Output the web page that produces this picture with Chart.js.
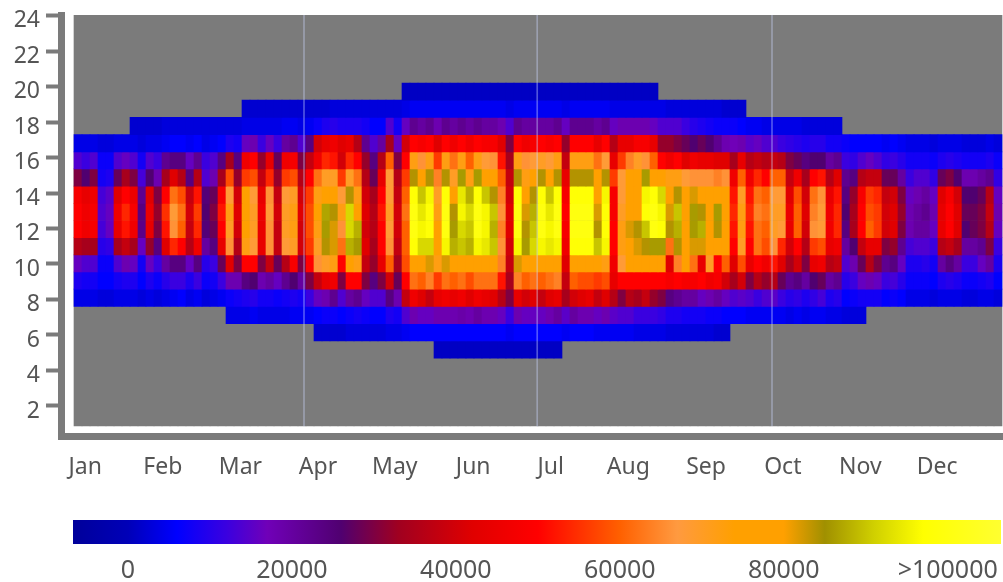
<!DOCTYPE html>
<html>
<head>
<meta charset="utf-8">
<title>Heatmap</title>
<script src="https://cdn.jsdelivr.net/npm/chart.js@4"></script>
<style>
  html, body { margin:0; padding:0; background:#fff; }
  canvas { position:absolute; left:0; display:block; filter:blur(0.6px); }
  #heat { top:0; }
  #scale { top:500px; }
</style>
</head>
<body>
<canvas id="heat" width="1003" height="500"></canvas>
<canvas id="scale" width="1003" height="82"></canvas>
<script>
const _ = null;
// values in thousands, one array per hour band (top of the picture first), 116 columns over the year
const band00 = [
_,_,_,_,_,_,_,_,_,_,_,_,_,_,_,_,_,_,_,_,_,_,_,_,_,_,_,_,_,_,_,_,_,_,_,_,_,_,_,_,
_,1,1,1,1,1,1,1,1,1,1,1,1,1,1,1,1,1,1,1,1,1,1,1,1,1,1,1,1,1,1,1,1,
_,_,_,_,_,_,_,_,_,_,_,_,_,_,_,_,_,_,_,_,_,_,_,_,_,_,_,_,_,_,_,_,_,_,_,_,_,_,_,_,_,_,_];
const band01 = [
_,_,_,_,_,_,_,_,_,_,_,_,_,_,_,_,_,_,_,_,_,
2,2,2,2,2,2,2,2,2,
2,2,3,3,3,3,3,3,3,3,
3,4,5,5,5,5,5,5,5,5,
5,5,5,5,4,5,5,5,5,5,
5,4,5,5,5,5,5,4,4,4,
4,4,4,4,3,3,3,3,3,3,
3,2,2,2,
_,_,_,_,_,_,_,_,_,_,_,_,_,_,_,_,_,_,_,_,_,_,_,_,_,_,_,_,_,_,_,_];
const band02 = [
_,_,_,_,_,_,_,2,2,2,
2,3,3,3,3,3,3,3,3,3,
3,4,4,4,4,4,5,5,4,5,
7,9,10,9,9,9,8,6,6,14,
8,16,22,20,22,18,22,20,22,20,
22,20,20,18,14,22,20,20,20,20,
22,16,22,22,22,20,22,16,18,18,
18,18,16,14,14,14,12,10,9,8,
7,7,7,6,5,5,4,4,4,4,
4,3,3,3,3,3,
_,_,_,_,_,_,_,_,_,_,_,_,_,_,_,_,_,_,_,_];
const band03 = [
4,4,4,3,3,4,4,4,3,4,
4,5,6,6,5,6,4,5,6,9,
8,16,18,12,16,12,20,22,14,24,
40,44,46,42,44,36,22,14,20,34,
16,40,50,48,50,42,50,46,50,46,
50,48,48,42,30,50,46,48,50,48,
50,32,50,50,50,44,50,36,44,44,
48,48,44,32,32,30,28,26,28,26,
22,18,17,18,15,16,14,14,12,11,
10,9,10,10,8,8,7,6,6,6,
6,5,6,5,4,4,4,3,4,4,
4,3,3,3,4,3];
const band04 = [
14,12,14,7,7,14,16,14,8,14,
12,22,24,24,16,22,12,14,24,34,
24,46,50,32,44,28,46,48,30,38,
46,54,52,40,54,50,32,24,36,60,
30,50,72,66,72,56,72,62,72,60,
72,68,66,52,34,72,66,68,70,68,
72,38,72,72,72,62,68,44,56,64,
70,66,60,50,46,50,42,46,44,44,
42,42,34,44,36,38,36,38,36,30,
28,24,26,26,20,22,12,11,14,16,
14,11,12,10,8,8,8,7,9,10,
9,8,8,8,9,7];
const band05 = [
30,26,30,8,9,28,34,30,13,26,
18,34,42,36,24,36,14,18,34,58,
32,56,58,38,54,32,56,58,36,50,
62,70,70,56,70,62,36,28,44,68,
36,56,84,78,84,64,84,70,86,72,
86,78,74,60,38,84,72,76,84,78,
84,44,84,84,84,74,84,56,68,74,
76,86,78,76,72,72,68,66,66,66,
64,66,46,60,46,54,50,60,60,38,
46,34,50,52,36,42,22,24,36,38,
38,28,28,20,12,14,14,11,28,30,
26,18,18,20,22,11];
const band06 = [
48,44,46,13,15,42,50,45,22,42,
30,50,62,58,38,52,25,28,48,68,
40,74,68,44,66,38,68,70,40,56,
72,80,78,68,84,72,40,34,50,68,
38,60,98,90,96,70,98,80,94,88,
98,90,84,64,40,98,80,84,98,90,
98,48,98,98,98,80,96,48,68,78,
78,96,98,92,78,84,76,82,78,76,
80,74,52,70,52,62,60,68,68,42,
58,40,62,66,44,52,24,32,48,56,
54,38,40,30,16,18,20,16,42,48,
40,26,26,28,36,16];
const band07 = [
50,46,48,14,16,46,54,48,24,45,
32,55,68,62,40,56,26,30,52,72,
42,76,70,46,68,40,70,72,42,58,
76,87,84,72,92,78,42,36,52,70,
40,62,100,94,98,72,100,84,96,92,
100,96,90,66,42,100,82,88,100,94,
100,50,100,100,100,82,98,48,70,80,
80,98,100,96,82,90,80,86,84,80,
86,78,54,72,54,64,62,70,70,45,
60,42,64,68,46,54,26,34,50,58,
56,40,42,32,18,20,22,18,44,50,
42,28,28,30,38,18];
const band08 = [
50,46,48,13,16,44,52,46,23,44,
30,52,66,60,38,54,25,28,50,70,
40,74,70,44,66,38,70,72,40,58,
72,86,82,66,92,88,40,36,50,68,
40,60,100,96,98,74,100,86,92,90,
100,96,88,64,42,100,84,90,100,96,
100,48,100,100,100,84,98,50,72,82,
84,90,100,98,84,88,78,86,88,80,
84,76,52,72,52,62,60,70,68,44,
60,40,66,68,46,54,24,34,50,60,
56,40,42,30,18,20,20,16,44,50,
42,26,28,30,36,16];
const band09 = [
36,34,34,10,11,34,38,34,16,32,
24,42,54,50,36,46,20,24,44,66,
36,72,68,44,66,38,68,70,40,56,
70,84,82,62,88,86,42,34,50,66,
38,60,98,92,92,76,96,88,90,88,
96,94,90,66,40,96,86,92,96,94,
96,46,98,98,98,90,96,50,72,80,
82,84,86,86,62,84,76,82,82,78,
80,74,50,70,50,62,58,66,54,40,
50,36,56,58,44,46,20,26,38,44,
44,30,32,22,13,14,14,12,36,38,
34,20,20,22,30,12];
const band10 = [
16,14,14,7,7,14,18,16,8,16,
12,20,24,24,16,24,10,12,28,42,
30,50,50,30,38,28,36,48,30,50,
66,70,72,50,74,72,38,32,44,60,
34,58,80,80,82,72,82,78,80,76,
78,80,80,64,38,82,76,80,78,78,
80,42,76,76,76,76,72,46,68,74,
76,76,76,74,42,64,74,62,44,70,
50,60,42,58,44,50,46,52,42,34,
40,30,44,46,36,38,14,18,28,36,
30,22,24,16,9,9,10,8,20,24,
20,12,12,16,20,9];
const band11 = [
9,8,8,6,6,8,9,9,6,9,
7,10,12,12,9,12,7,8,12,18,
18,24,26,18,20,16,22,26,20,30,
38,44,46,30,50,50,30,24,30,40,
28,50,62,60,64,56,62,60,62,58,
62,62,62,52,34,64,60,62,60,62,
64,38,60,58,58,56,58,44,50,50,
50,50,50,50,48,50,48,48,50,46,
48,40,34,40,30,36,32,36,28,22,
24,20,26,28,20,22,10,12,16,18,
16,12,13,10,7,7,7,6,9,10,
9,7,7,8,9,6];
const band12 = [
4,4,4,3,3,4,4,4,3,4,
3,4,5,6,4,5,3,4,5,7,
8,9,10,8,8,7,8,9,8,12,
16,18,22,14,20,22,16,14,14,24,
18,38,46,42,38,44,46,44,46,42,
46,44,42,36,30,44,40,42,38,42,
44,34,40,42,44,38,42,36,30,36,
34,38,32,30,24,22,20,20,16,18,
20,16,14,15,14,12,14,15,12,10,
11,9,11,13,9,10,6,7,8,8,
8,6,7,6,4,4,4,3,4,4,
4,3,3,4,4,3];
const band13 = [
_,_,_,_,_,_,_,_,_,_,_,_,_,_,_,_,_,_,_,
4,4,4,5,4,4,4,4,5,5,5,
6,7,7,6,7,8,7,6,6,9,
8,14,18,16,16,18,18,18,19,18,
20,18,18,16,12,18,16,16,16,18,
20,15,20,18,18,16,18,15,14,14,
12,12,12,11,9,9,8,8,8,7,
7,6,6,6,5,5,5,5,5,4,
5,4,5,5,4,4,3,3,3,
_,_,_,_,_,_,_,_,_,_,_,_,_,_,_,_,_];
const band14 = [
_,_,_,_,_,_,_,_,_,_,_,_,_,_,_,_,_,_,_,_,_,_,_,_,_,_,_,_,_,_,
2,2,2,2,3,3,3,3,3,4,
4,5,6,6,6,6,6,6,6,6,
6,6,6,6,5,6,6,6,6,6,
6,5,6,6,6,5,5,5,5,5,
4,4,4,4,3,3,3,3,3,3,
2,2,
_,_,_,_,_,_,_,_,_,_,_,_,_,_,_,_,_,_,_,_,_,_,_,_,_,_,_,_,_,_,_,_,_,_];
const band15 = [
_,_,_,_,_,_,_,_,_,_,_,_,_,_,_,_,_,_,_,_,_,_,_,_,_,_,_,_,_,_,_,_,_,_,_,_,_,_,_,_,_,_,_,_,_,
1,1,1,1,1,1,1,1,1,1,1,1,1,1,1,1,
_,_,_,_,_,_,_,_,_,_,_,_,_,_,_,_,_,_,_,_,_,_,_,_,_,_,_,_,_,_,_,_,_,_,_,_,_,_,_,_,_];

// hours at the band edges, top to bottom
const bandEdges = [20.2,19.23,18.26,17.29,16.32,15.36,14.39,13.42,12.45,11.48,10.51,9.55,8.58,7.61,6.64,5.67,4.7];
const yTicks = [2,4,6,8,10,12,14,16,18,20,22,24];
const monthNames = ['Jan','Feb','Mar','Apr','May','Jun','Jul','Aug','Sep','Oct','Nov','Dec'];
const monthTicks = [1.4,11.1,20.8,30.5,40.1,49.9,59.6,69.3,79,88.6,98.3,107.9];
const seasonLines = [28.75,57.9,87.25];

// colour scale
const stopValues = [-6.7,0,6,12,17,26,33,42,50,60,67,74,80,85,91,97,106.5];
const stopColors = [[0,0,154],[0,0,184],[0,0,255],[58,0,224],[112,0,184],[80,0,112],[160,0,32],[224,0,0],[255,0,0],[255,96,0],[255,154,64],[255,160,0],[255,160,0],[160,144,0],[208,208,0],[255,255,0],[255,255,48]];
const scaleTicks = [0,20,40,60,80,100];
const scaleLabels = ['0','20000','40000','60000','80000','>100000'];

const heatBands = [band00,band01,band02,band03,band04,band05,band06,band07,band08,band09,band10,band11,band12,band13,band14,band15];
const axisGrey = '#7b7b7b';
const textGrey = '#555';

function rgbStr(c){ return `rgb(${c[0]},${c[1]},${c[2]})`; }
function colorFor(v){
  for(let i=1;i<stopValues.length;i++){
    if(v<=stopValues[i]){
      const t=(v-stopValues[i-1])/(stopValues[i]-stopValues[i-1]);
      const a=stopColors[i-1], b=stopColors[i];
      return rgbStr(a.map((x,k)=>Math.round(x+(b[k]-x)*t)));
    }
  }
  return rgbStr(stopColors[stopColors.length-1]);
}

const datasets = [];
// seasons lines first, first dataset is on top
datasets.push({
  data: seasonLines.map(x=>({x:x,y:[0.87,24.03]})),
  backgroundColor:'rgba(205,215,255,0.4)', barThickness:1
});
heatBands.forEach((vals,b)=>{
  const pts=[], cols=[];
  vals.forEach((v,i)=>{
    if(v===null) return;
    pts.push({x:i+0.5,y:[bandEdges[b+1],bandEdges[b]]});
    cols.push(colorFor(v));
  });
  datasets.push({data:pts, backgroundColor:cols, barThickness:8});
});
// grey background, last so it is under everything
datasets.push({
  data: band07.map((v,i)=>({x:i+0.5,y:[0.87,24.03]})),
  backgroundColor:axisGrey, barThickness:8
});

new Chart(document.getElementById('heat').getContext('2d'), {
  type:'bar',
  data:{datasets:datasets},
  options:{
    responsive:false, animation:false, grouped:false,
    layout:{padding:{top:15}},
    plugins:{legend:{display:false},tooltip:{enabled:false}},
    scales:{
      x:{
        type:'linear', min:-1.625, max:116.125, offset:false,
        afterBuildTicks:s=>{ s.ticks=monthTicks.map(v=>({value:v})); },
        afterFit:s=>{ s.height=63.5; },
        grid:{drawOnChartArea:false,drawTicks:false,offset:false},
        border:{display:true,color:axisGrey,width:7},
        ticks:{autoSkip:false,maxRotation:0,padding:17,color:textGrey,font:{family:'"Noto Sans"',size:23},
          callback:(v,i)=>monthNames[i]}
      },
      y:{
        type:'linear', min:0.28, max:24.03,
        afterBuildTicks:s=>{ s.ticks=yTicks.map(v=>({value:v})); },
        afterFit:s=>{ s.width=61; s.paddingTop=0; s.paddingBottom=0; },
        grid:{drawOnChartArea:false,drawTicks:true,tickLength:15,tickWidth:4,tickColor:axisGrey},
        border:{display:true,color:axisGrey,width:7},
        ticks:{autoSkip:false,padding:6,labelOffset:5,color:textGrey,font:{family:'"Noto Sans"',size:23},
          callback:v=>String(v)}
      }
    }
  }
});

// colour bar
new Chart(document.getElementById('scale').getContext('2d'), {
  type:'bar',
  data:{
    labels:[''],
    datasets:[{
      data:[[stopValues[0],stopValues[stopValues.length-1]]],
      barPercentage:1, categoryPercentage:1,
      backgroundColor:c=>{
        const ch=c.chart, area=ch.chartArea;
        if(!area) return rgbStr(stopColors[0]);
        const xs=ch.scales.x;
        const g=ch.ctx.createLinearGradient(xs.getPixelForValue(stopValues[0]),0,xs.getPixelForValue(stopValues[stopValues.length-1]),0);
        const span=stopValues[stopValues.length-1]-stopValues[0];
        stopValues.forEach((v,i)=>g.addColorStop((v-stopValues[0])/span,rgbStr(stopColors[i])));
        return g;
      }
    }]
  },
  options:{
    indexAxis:'y', responsive:false, animation:false,
    layout:{padding:{top:20,left:73,right:2}},
    plugins:{legend:{display:false},tooltip:{enabled:false}},
    scales:{
      x:{
        type:'linear', min:stopValues[0], max:stopValues[stopValues.length-1],
        afterBuildTicks:s=>{ s.ticks=scaleTicks.map(v=>({value:v})); },
        afterFit:s=>{ s.height=38; },
        grid:{display:false},
        border:{display:false},
        ticks:{autoSkip:false,maxRotation:0,padding:4,color:textGrey,font:{family:'"Noto Sans"',size:25},
          callback:(v,i)=>scaleLabels[i]}
      },
      y:{display:false}
    }
  }
});
</script>
</body>
</html>
